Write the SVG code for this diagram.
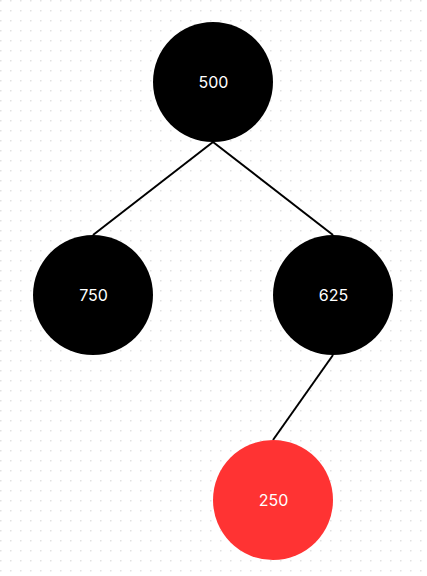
<svg xmlns="http://www.w3.org/2000/svg" width="427" height="576" viewBox="0 0 427 576">
  <defs>
    <pattern id="dots" width="10" height="10" patternUnits="userSpaceOnUse">
      <rect x="0" y="0" width="1.5" height="1.5" fill="#e2e2e2"/>
    </pattern>
    <style>
      .edge { stroke: #000; stroke-width: 2; fill: none; }
      .black { fill: #000; }
      .red { fill: #ff3333; }
      .label { fill: #fff; font-family: Inter, "Liberation Sans", sans-serif; font-size: 16px; text-anchor: middle; dominant-baseline: central; }
    </style>
  </defs>
  <rect width="427" height="576" fill="#fff"/>
  <rect width="427" height="576" fill="url(#dots)"/>

  <g id="edges">
    <line class="edge" x1="213" y1="142" x2="93" y2="235"/>
    <line class="edge" x1="213" y1="142" x2="333" y2="235"/>
    <line class="edge" x1="333" y1="355" x2="273" y2="440"/>
  </g>

  <g id="node-500">
    <circle class="black" cx="213" cy="82" r="60"/>
    <text class="label" x="213.5" y="82">500</text>
  </g>
  <g id="node-750">
    <circle class="black" cx="93" cy="295" r="60"/>
    <text class="label" x="93.5" y="295">750</text>
  </g>
  <g id="node-625">
    <circle class="black" cx="333" cy="295" r="60"/>
    <text class="label" x="333.5" y="295">625</text>
  </g>
  <g id="node-250">
    <circle class="red" cx="273" cy="500" r="60"/>
    <text class="label" x="273.5" y="500">250</text>
  </g>
</svg>
